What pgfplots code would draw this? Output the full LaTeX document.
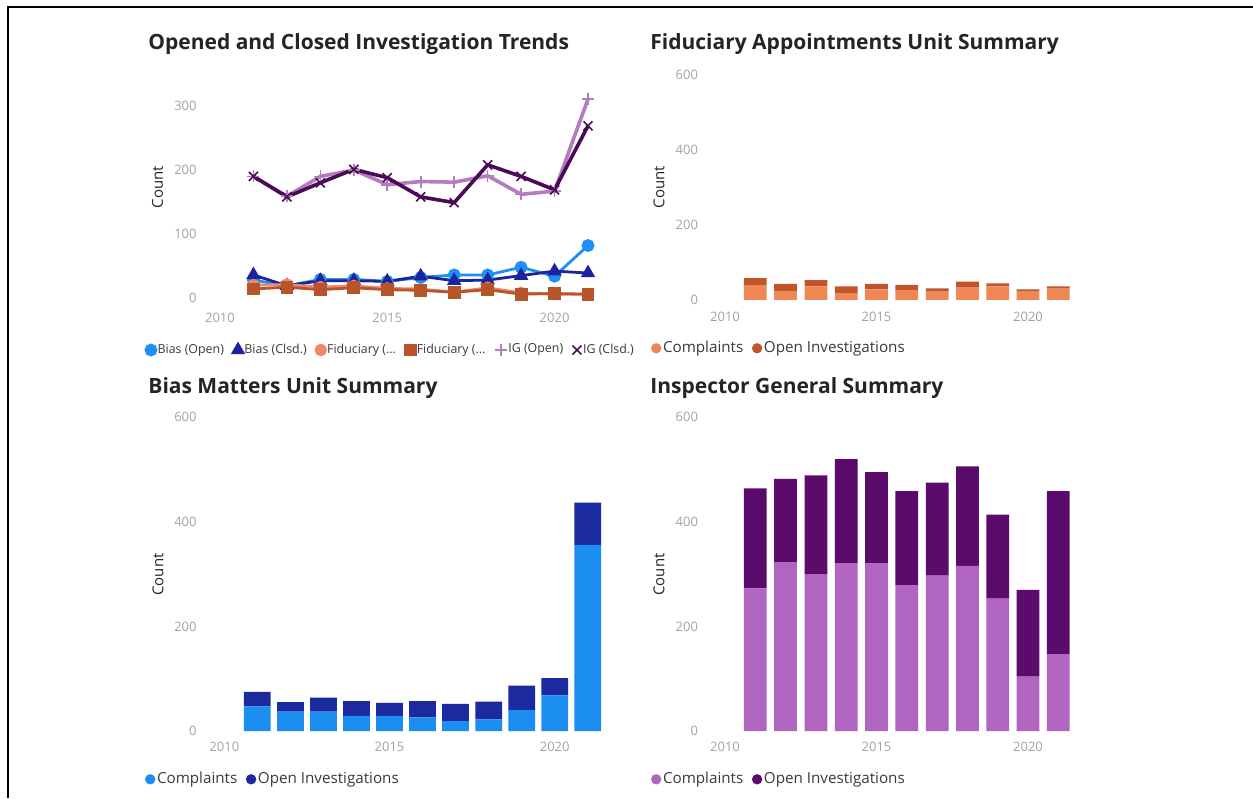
\documentclass[border=0pt]{standalone}
\usepackage{fontspec}
\setmainfont{Open Sans}
\usepackage{pgfplots}
\pgfplotsset{compat=1.18}
\definecolor{tickgray}{HTML}{A3A3A3}
\definecolor{legendgray}{HTML}{3A3A3A}
\definecolor{titlecol}{HTML}{252423}
\definecolor{biasopen}{HTML}{1E90F5}
\definecolor{biasclsd}{HTML}{1B239E}
\definecolor{fidopenl}{HTML}{F0866A}
\definecolor{fidclsd}{HTML}{B8542A}
\definecolor{igopen}{HTML}{B27BC2}
\definecolor{igclsd}{HTML}{4B0A55}
\definecolor{fidcomp}{HTML}{EE8753}
\definecolor{fidopen}{HTML}{C2532B}
\definecolor{biascomp}{HTML}{1C8EF2}
\definecolor{biasinv}{HTML}{1B2A9E}
\definecolor{igcomp}{HTML}{B066C0}
\definecolor{iginv}{HTML}{5B0B6B}
\pgfplotsset{pbi/.style={
  scale only axis, anchor=south west, clip=false,
  axis line style={draw=none}, major tick length=0pt, tick style={draw=none},
  tick label style={font=\fontsize{6.5}{7}\selectfont, text=tickgray, inner sep=0pt},
  xtick={2010,2015,2020}, xticklabels={2010,2015,2020},
  legend columns=-1, legend cell align=left,
  legend style={draw=none, fill=none, inner sep=0pt, outer sep=0pt, anchor=west,
    text=legendgray, nodes={inner sep=0.8pt}},
}}
\begin{document}
\begin{tikzpicture}
\path[use as bounding box] (0,0) rectangle (626.5pt,399pt);
\fill[white] (0,0) rectangle (626.5pt,399pt);
\draw[line width=1pt, black] (3.75pt,0pt) -- (3.75pt,395.25pt) -- (626.5pt,395.25pt);

% ---------- Top-left: line chart
\begin{axis}[pbi, at={(103.3pt,246.8pt)}, width=197.4pt, height=112pt,
  xmin=2009.6, xmax=2021.4, ymin=-10, ymax=340,
  ytick={0,100,200,300}, yticklabels={0,100,200,300},
  yticklabel style={anchor=east, xshift=-4.8pt},
  xticklabel style={anchor=north, yshift=-4pt},
  legend style={at={(-0.1535,-0.2036)}, font=\fontsize{6.2}{7}\selectfont,
    /tikz/every even column/.append style={column sep=3.8pt}},
  legend image code/.code={\draw[#1] plot coordinates {(2.3pt,0pt)};}]
\addplot[biasopen, line width=1.4pt, mark=*, mark size=2.5pt] coordinates {
 (2011,28) (2012,19) (2013,29) (2014,29) (2015,26) (2016,32) (2017,36) (2018,36) (2019,48) (2020,34) (2021,82)};
\addlegendentry{Bias (Open)}
\addplot[biasclsd, line width=1.4pt, mark=triangle*, mark size=2.8pt] coordinates {
 (2011,36) (2012,19) (2013,27) (2014,27) (2015,26) (2016,34) (2017,27) (2018,28) (2019,35) (2020,42) (2021,39)};
\addlegendentry{Bias (Clsd.)}
\addplot[fidopenl, line width=1.4pt, mark=*, mark size=2.4pt] coordinates {
 (2011,20) (2012,21) (2013,17) (2014,19) (2015,15) (2016,14) (2017,9) (2018,16) (2019,8) (2020,6) (2021,6)};
\addlegendentry{Fiduciary (...}
\addplot[fidclsd, line width=1.4pt, mark=square*, mark size=2.5pt] coordinates {
 (2011,14) (2012,17) (2013,13) (2014,16) (2015,13) (2016,12) (2017,9) (2018,13) (2019,6) (2020,7) (2021,6)};
\addlegendentry{Fiduciary (...}
\addplot[igopen, line width=1.8pt, mark=+, mark size=3pt, mark options={line width=0.8pt}] coordinates {
 (2011,190) (2012,159) (2013,190) (2014,200) (2015,177) (2016,182) (2017,181) (2018,191) (2019,162) (2020,167) (2021,311)};
\addlegendentry{IG (Open)}
\addplot[igclsd, line width=1.8pt, mark=x, mark size=3.2pt, mark options={line width=0.8pt}] coordinates {
 (2011,190) (2012,158) (2013,180) (2014,201) (2015,188) (2016,158) (2017,149) (2018,208) (2019,190) (2020,169) (2021,269)};
\addlegendentry{IG (Clsd.)}
\end{axis}

% ---------- Top-right: Fiduciary bars
\begin{axis}[pbi, ybar stacked, bar width=0.75, at={(357.95pt,249pt)}, width=178.8pt, height=112.5pt,
  xmin=2009.7, xmax=2021.5, ymin=0, ymax=600,
  ytick={0,200,400,600}, yticklabels={0,200,400,600},
  yticklabel style={anchor=east, xshift=-8.75pt},
  xticklabel style={anchor=north, yshift=-6pt},
  legend style={at={(-0.1815,-0.2147)}, font=\fontsize{7.6}{9}\selectfont,
    /tikz/every even column/.append style={column sep=3.5pt}},
  every axis plot post/.append style={legend image code/.code={\draw[##1, draw=none] (2.6pt,0pt) circle (2.6pt);}}]
\addplot[fill=fidcomp, draw=none] coordinates {
 (2011,38) (2012,22) (2013,36) (2014,17) (2015,28) (2016,26) (2017,22) (2018,33) (2019,36) (2020,22) (2021,30)};
\addlegendentry{Complaints}
\addplot[fill=fidopen, draw=none] coordinates {
 (2011,20) (2012,21) (2013,17) (2014,19) (2015,15) (2016,14) (2017,9) (2018,16) (2019,8) (2020,6) (2021,6)};
\addlegendentry{Open Investigations}
\end{axis}

% ---------- Bottom-left: Bias bars
\begin{axis}[pbi, ybar stacked, bar width=0.81, at={(107.2pt,33.5pt)}, width=194.95pt, height=156.85pt,
  xmin=2009.7, xmax=2021.5, ymin=0, ymax=600,
  ytick={0,200,400,600}, yticklabels={0,200,400,600},
  yticklabel style={anchor=east, xshift=-8.7pt},
  xticklabel style={anchor=north, yshift=-5.5pt},
  legend style={at={(-0.178,-0.154)}, font=\fontsize{7.6}{9}\selectfont,
    /tikz/every even column/.append style={column sep=3.5pt}},
  every axis plot post/.append style={legend image code/.code={\draw[##1, draw=none] (2.6pt,0pt) circle (2.6pt);}}]
\addplot[fill=biascomp, draw=none] coordinates {
 (2011,47) (2012,37) (2013,37) (2014,29) (2015,29) (2016,26) (2017,19) (2018,22) (2019,40) (2020,68) (2021,356)};
\addlegendentry{Complaints}
\addplot[fill=biasinv, draw=none] coordinates {
 (2011,28) (2012,18) (2013,27) (2014,28) (2015,25) (2016,31) (2017,33) (2018,34) (2019,47) (2020,33) (2021,81)};
\addlegendentry{Open Investigations}
\end{axis}

% ---------- Bottom-right: IG bars
\begin{axis}[pbi, ybar stacked, bar width=0.75, at={(357.95pt,33.5pt)}, width=178.8pt, height=156.85pt,
  xmin=2009.7, xmax=2021.5, ymin=0, ymax=600,
  ytick={0,200,400,600}, yticklabels={0,200,400,600},
  yticklabel style={anchor=east, xshift=-8.75pt},
  xticklabel style={anchor=north, yshift=-5.5pt},
  legend style={at={(-0.1815,-0.154)}, font=\fontsize{7.6}{9}\selectfont,
    /tikz/every even column/.append style={column sep=3.5pt}},
  every axis plot post/.append style={legend image code/.code={\draw[##1, draw=none] (2.6pt,0pt) circle (2.6pt);}}]
\addplot[fill=igcomp, draw=none] coordinates {
 (2011,273) (2012,323) (2013,300) (2014,321) (2015,321) (2016,279) (2017,297) (2018,316) (2019,253) (2020,104) (2021,147)};
\addlegendentry{Complaints}
\addplot[fill=iginv, draw=none] coordinates {
 (2011,191) (2012,159) (2013,189) (2014,199) (2015,174) (2016,180) (2017,178) (2018,190) (2019,161) (2020,166) (2021,312)};
\addlegendentry{Open Investigations}
\end{axis}

% ---------- Titles and axis labels
\tikzset{ttl/.style={anchor=base west, inner sep=0pt, text=titlecol, font=\fontsize{10.5}{12}\selectfont\bfseries},
         cnt/.style={rotate=90, inner sep=0pt, text=titlecol, font=\fontsize{7.5}{9}\selectfont}}
\node[ttl] at (74pt,374pt) {Opened and Closed Investigation Trends};
\node[ttl] at (325pt,374pt) {Fiduciary Appointments Unit Summary};
\node[ttl] at (74pt,202pt) {Bias Matters Unit Summary};
\node[ttl] at (325pt,202pt) {Inspector General Summary};
\node[cnt] at (78.75pt,305.5pt) {Count};
\node[cnt] at (329.5pt,305.5pt) {Count};
\node[cnt] at (79pt,111.75pt) {Count};
\node[cnt] at (329.5pt,111.75pt) {Count};
\end{tikzpicture}
\end{document}
